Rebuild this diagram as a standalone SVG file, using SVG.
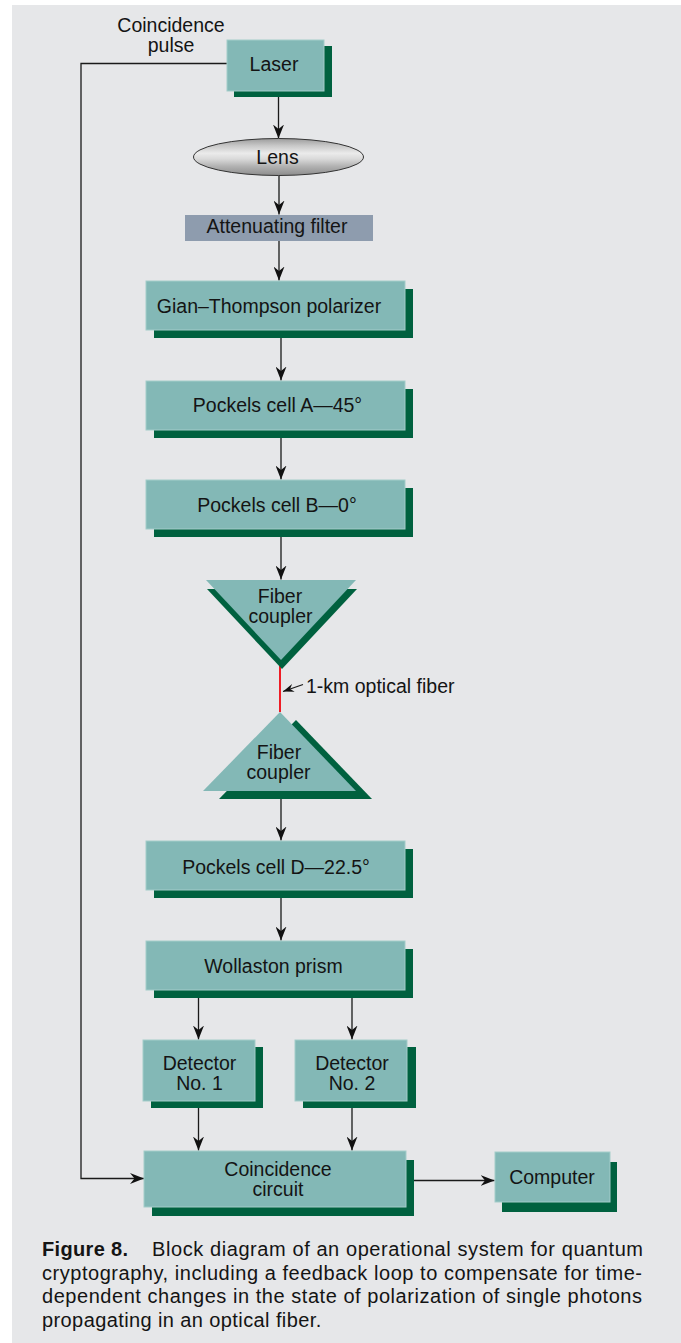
<svg xmlns="http://www.w3.org/2000/svg" width="681" height="1343" viewBox="0 0 681 1343">
<defs>
<style>
.box{fill:#83b8b6;stroke:#a3cdca;stroke-width:1}
.sh{fill:#00613f}
.t{font-family:"Liberation Sans",Arial,sans-serif;font-size:19.5px;fill:#141414;text-anchor:middle}
.cap{font-family:"Liberation Sans",Arial,sans-serif;font-size:20px;fill:#141414}
.ln{stroke:#1a1a1a;stroke-width:1.3;fill:none}
.ar{stroke:#1a1a1a;stroke-width:1.3;fill:none;marker-end:url(#arr)}
</style>
<marker id="arr" markerUnits="userSpaceOnUse" viewBox="0 0 14 11" markerWidth="14" markerHeight="11" refX="14" refY="5.5" orient="auto">
<path d="M0,0 L14,5.5 L0,11 L4.5,5.5 Z" fill="#111"/>
</marker>
<marker id="arrS" markerUnits="userSpaceOnUse" viewBox="0 0 11 8" markerWidth="11" markerHeight="8" refX="11" refY="4" orient="auto">
<path d="M0,0 L11,4 L0,8 L3.5,4 Z" fill="#111"/>
</marker>
<linearGradient id="lensg" x1="0" y1="0" x2="0" y2="1">
<stop offset="0" stop-color="#9c9c9c"/>
<stop offset="0.2" stop-color="#c9c9c9"/>
<stop offset="0.4" stop-color="#ebebeb"/>
<stop offset="0.55" stop-color="#dadada"/>
<stop offset="0.75" stop-color="#b2b2b2"/>
<stop offset="1" stop-color="#8c8c8c"/>
</linearGradient>
</defs>
<rect x="0" y="0" width="681" height="1343" fill="#ffffff"/>
<rect x="12" y="5" width="669" height="1338" fill="#e6e7e9"/>

<g id="connectors">
<path class="ar" d="M227,63.5 H81 V1178.5 H144"/>
<path class="ar" d="M278.5,91 V138.5"/>
<path class="ar" d="M279,175.5 V214.5"/>
<path class="ar" d="M279,241 V280.5"/>
<path class="ar" d="M281,330 V380.5"/>
<path class="ar" d="M281,430 V479.5"/>
<path class="ar" d="M281,529 V579.5"/>
<path d="M280,660 V712" stroke="#ee1c25" stroke-width="2" fill="none"/>
<path class="ln" d="M303,684.5 L283,691.5" style="marker-end:url(#arrS)"/>
<path class="ar" d="M281,791 V840.5"/>
<path class="ar" d="M281,890 V940.5"/>
<path class="ar" d="M198.5,990 V1039.5"/>
<path class="ar" d="M352,990 V1039.5"/>
<path class="ar" d="M198.5,1101 V1150.5"/>
<path class="ar" d="M352,1101 V1150.5"/>
<path class="ar" d="M406,1180.5 H494.5"/>
</g>

<g id="coincidence-pulse-label">
<text class="t" x="171" y="32">Coincidence</text>
<text class="t" x="171" y="52">pulse</text>
</g>

<g id="laser">
<rect class="sh" x="234" y="46" width="98" height="51"/>
<rect class="box" x="227" y="40" width="97" height="51"/>
<text class="t" x="274" y="71">Laser</text>
</g>

<g id="lens">
<ellipse cx="278.5" cy="157" rx="85" ry="18.5" fill="url(#lensg)" stroke="#333" stroke-width="1"/>
<text class="t" x="277.5" y="163.5">Lens</text>
</g>

<g id="filter">
<rect x="185" y="215" width="188" height="26" fill="#8e9cae"/>
<text class="t" x="277" y="233">Attenuating filter</text>
</g>

<g id="gian-thompson">
<rect class="sh" x="154" y="289" width="259" height="49"/>
<rect class="box" x="146" y="281" width="259" height="49"/>
<text class="t" x="269" y="312.5">Gian–Thompson polarizer</text>
</g>

<g id="pockels-a">
<rect class="sh" x="154" y="389" width="259" height="49"/>
<rect class="box" x="146" y="381" width="259" height="49"/>
<text class="t" x="277.5" y="412">Pockels cell A—45°</text>
</g>

<g id="pockels-b">
<rect class="sh" x="154" y="488" width="259" height="49"/>
<rect class="box" x="146" y="480" width="259" height="49"/>
<text class="t" x="277" y="512">Pockels cell B—0°</text>
</g>

<g id="fiber-coupler-1">
<polygon class="sh" points="207,589 357,589 282,669"/>
<polygon points="206,580 356,580 281,660" fill="#83b8b6"/>
<text class="t" x="280" y="603">Fiber</text>
<text class="t" x="280.5" y="623">coupler</text>
</g>

<g id="fiber-label">
<text class="t" x="306" y="692.5" style="text-anchor:start">1-km optical fiber</text>
</g>

<g id="fiber-coupler-2">
<polygon class="sh" points="296,720 372,799 219,799"/>
<polygon points="280,712 356,791 203,791" fill="#83b8b6"/>
<text class="t" x="279" y="758.5">Fiber</text>
<text class="t" x="278.5" y="778.5">coupler</text>
</g>

<g id="pockels-d">
<rect class="sh" x="154" y="849" width="259" height="49"/>
<rect class="box" x="146" y="841" width="259" height="49"/>
<text class="t" x="276" y="873.5">Pockels cell D—22.5°</text>
</g>

<g id="wollaston">
<rect class="sh" x="154" y="949" width="259" height="49"/>
<rect class="box" x="146" y="941" width="259" height="49"/>
<text class="t" x="273.5" y="973">Wollaston prism</text>
</g>

<g id="detector-1">
<rect class="sh" x="151" y="1047" width="112" height="61"/>
<rect class="box" x="143" y="1040" width="112" height="61"/>
<text class="t" x="199.5" y="1070">Detector</text>
<text class="t" x="199.5" y="1090">No. 1</text>
</g>

<g id="detector-2">
<rect class="sh" x="303" y="1047" width="113" height="61"/>
<rect class="box" x="295" y="1040" width="112" height="61"/>
<text class="t" x="352" y="1070">Detector</text>
<text class="t" x="352" y="1090">No. 2</text>
</g>

<g id="coincidence-circuit">
<rect class="sh" x="152" y="1160" width="262" height="56"/>
<rect class="box" x="144" y="1151" width="262" height="56"/>
<text class="t" x="278" y="1176">Coincidence</text>
<text class="t" x="278" y="1196">circuit</text>
</g>

<g id="computer">
<rect class="sh" x="502" y="1162" width="115" height="50"/>
<rect class="box" x="495" y="1152" width="115" height="50"/>
<text class="t" x="552" y="1184">Computer</text>
</g>

<g id="caption">
<text class="cap" x="42" y="1256" font-weight="bold" textLength="86" lengthAdjust="spacing">Figure 8.</text>
<text class="cap" x="152" y="1256" textLength="491" lengthAdjust="spacing">Block diagram of an operational system for quantum</text>
<text class="cap" x="42" y="1279.5" textLength="600" lengthAdjust="spacing">cryptography, including a feedback loop to compensate for time-</text>
<text class="cap" x="42" y="1303" textLength="600" lengthAdjust="spacing">dependent changes in the state of polarization of single photons</text>
<text class="cap" x="42" y="1326.5" letter-spacing="0.4">propagating in an optical fiber.</text>
</g>
</svg>
